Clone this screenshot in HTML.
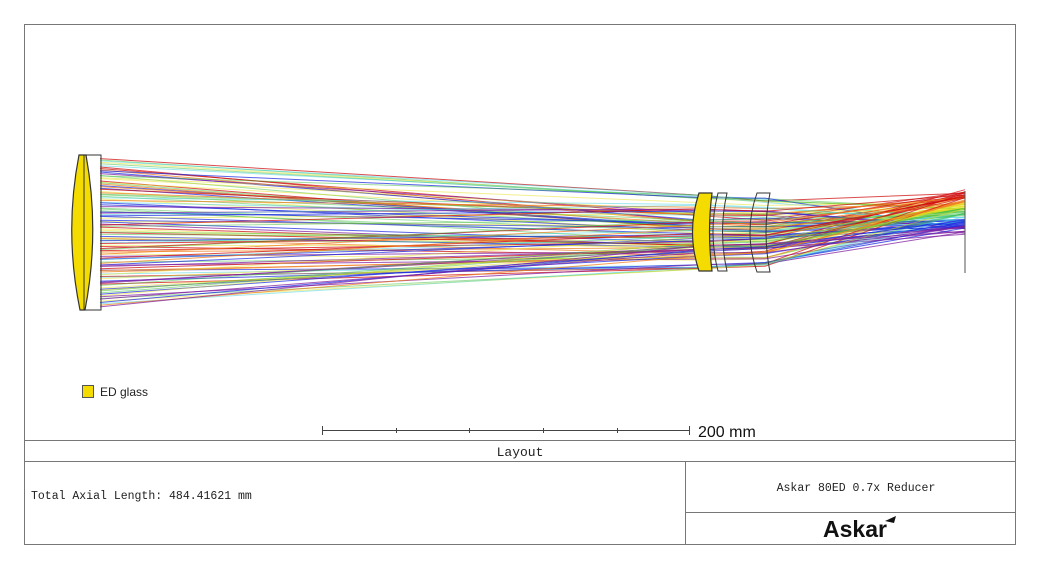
<!DOCTYPE html>
<html><head><meta charset="utf-8"><style>
html,body{margin:0;padding:0;background:#fff;}
svg{display:block;}
text{font-family:"Liberation Mono",monospace;}
</style></head><body>
<svg id="s" width="1040" height="571" viewBox="0 0 1040 571" xmlns="http://www.w3.org/2000/svg">
<rect x="0" y="0" width="1040" height="571" fill="#fff"/>
<rect x="24.5" y="24.5" width="991" height="520" fill="none" stroke="#777" stroke-width="1"/>
<g id="rays" stroke-width="1" fill="none"></g>
<path d="M79,155 Q64,232 80,310 L85,310 Q100,232 86,155 Z" fill="#f5dc00" stroke="#333" stroke-width="1.2"/>
<rect x="84" y="155" width="17" height="155" fill="none" stroke="#333" stroke-width="1"/>
<path d="M699,193 L712,193 Q707,232 712,271 L699,271 Q686,232 699,193 Z" fill="#f5dc00" stroke="#333" stroke-width="1.2"/>
<path d="M718,193 L727,193 Q718,232 727,271 L718,271 Q708,232 718,193 Z" fill="#fff" fill-opacity="0.3" stroke="#333" stroke-width="1"/>
<path d="M757,193 L770,193 Q762,232 770,272 L757,272 Q743,232 757,193 Z" fill="none" stroke="#333" stroke-width="1"/>
<line x1="965" y1="191" x2="965" y2="273" stroke="#555" stroke-width="1"/>
<rect x="82.5" y="385.5" width="11" height="12" fill="#f5dc00" stroke="#555"/>
<text x="100" y="396" font-size="12" fill="#222" style="font-family:'Liberation Sans',sans-serif">ED glass</text>
<g stroke="#444" stroke-width="1">
<line x1="322" y1="430.5" x2="689" y2="430.5"/>
<line x1="322.5" y1="426" x2="322.5" y2="435"/>
<line x1="396.5" y1="428" x2="396.5" y2="433"/>
<line x1="469.5" y1="428" x2="469.5" y2="433"/>
<line x1="543.5" y1="428" x2="543.5" y2="433"/>
<line x1="617.5" y1="428" x2="617.5" y2="433"/>
<line x1="689.5" y1="426" x2="689.5" y2="435"/>
</g>
<text x="698" y="437" font-size="16" fill="#111" style="font-family:'Liberation Sans',sans-serif">200 mm</text>
<g stroke="#777" stroke-width="1">
<line x1="24" y1="440.5" x2="1015" y2="440.5"/>
<line x1="24" y1="461.5" x2="1015" y2="461.5"/>
<line x1="685.5" y1="461" x2="685.5" y2="544"/>
<line x1="685" y1="512.5" x2="1015" y2="512.5"/>
</g>
<text x="520" y="456" font-size="13" fill="#222" text-anchor="middle">Layout</text>
<text x="31" y="499" font-size="11.5" fill="#222">Total Axial Length:  484.41621 mm</text>
<text x="856" y="491" font-size="11.5" fill="#222" text-anchor="middle">Askar 80ED 0.7x Reducer</text>
<text x="855" y="537" font-size="23" font-weight="bold" fill="#111" text-anchor="middle" style="font-family:'Liberation Sans',sans-serif">Askar</text>
<path d="M885,521 L896,516 L894,523 Z" fill="#111"/>
</svg>
<script>
var g=document.getElementById('rays');
var cols=['#d01010','#f08020','#e8e020','#40c040','#40d0e0','#2030e0','#8020a0'];
var seed=11;function r(){seed=(seed*16807)%2147483647;return seed/2147483647;}
var s='';var N=110;
for(var i=0;i<N;i++){
var c=Math.floor(r()*7);
var y0=158+(i+r())/N*149;
var y1=232+(y0-232)*0.45+(r()-0.5)*40;
if(y1<195)y1=195+r()*4; if(y1>270)y1=266+r()*4;
var y2=232+(y1-232)*0.9+(r()-0.5)*6;
var yi=194+c*6+(r()-0.5)*9;
var op=(c==2||c==3||c==4)?0.5:0.75;
s+='<polyline points="100,'+y0.toFixed(1)+' 700,'+y1.toFixed(1)+' 765,'+y2.toFixed(1)+' 965,'+yi.toFixed(1)+'" stroke="'+cols[c]+'" stroke-opacity="'+op+'"/>';
}
g.innerHTML=s;
</script>
</body></html>
